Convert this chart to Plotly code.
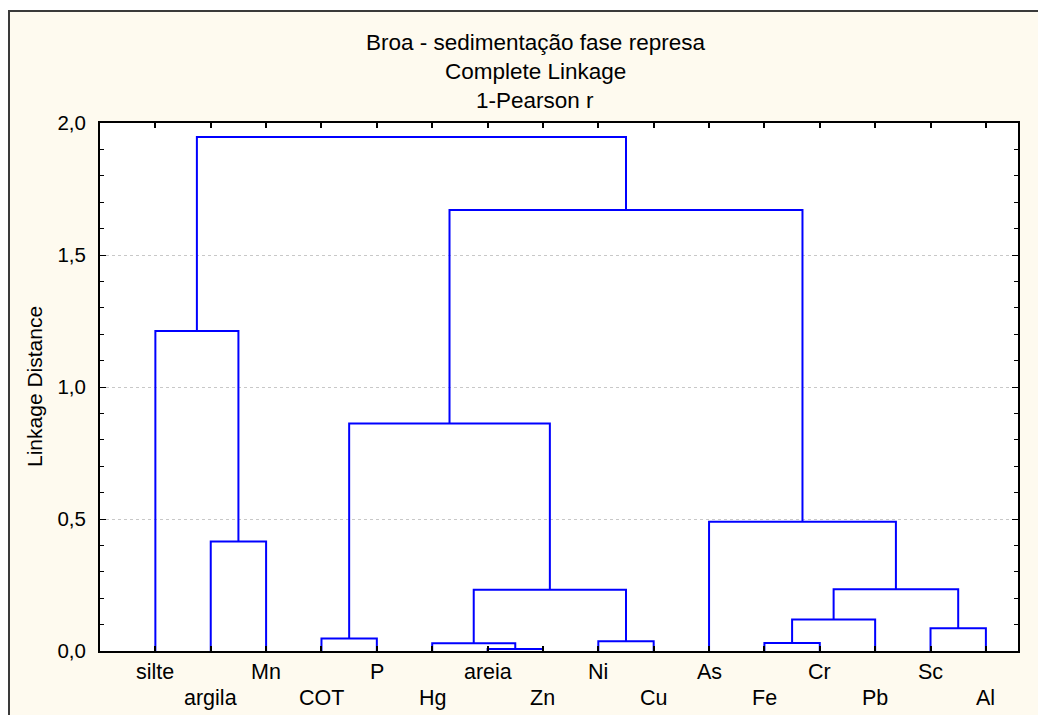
import plotly.graph_objects as go

# ---- data ----
leaves = ["silte", "argila", "Mn", "COT", "P", "Hg", "areia", "Zn",
          "Ni", "Cu", "As", "Fe", "Cr", "Pb", "Sc", "Al"]
# merges: (left cluster, right cluster); new cluster ids start at len(leaves)
merge_left = [6, 5, 11, 8, 3, 14, 18, 17, 22, 1, 10, 20, 0, 27, 28]
merge_right = [7, 16, 12, 9, 4, 15, 13, 19, 21, 2, 24, 23, 25, 26, 29]
merge_height = [0.008, 0.029, 0.030, 0.037, 0.047, 0.086, 0.119, 0.232,
                0.234, 0.415, 0.490, 0.862, 1.212, 1.670, 1.947]
ytick_vals = [0.0, 0.5, 1.0, 1.5, 2.0]
ytick_text = ["0,0", "0,5", "1,0", "1,5", "2,0"]
titles = ["Broa - sedimentação fase represa", "Complete Linkage", "1-Pearson r"]
ytitle = "Linkage Distance"

# ---- build dendrogram geometry ----
n = len(leaves)
pos = {i: i + 1 for i in range(n)}
hgt = {i: 0.0 for i in range(n)}
xs, ys = [], []
for k, (a, b, h) in enumerate(zip(merge_left, merge_right, merge_height)):
    xa, xb = pos[a], pos[b]
    xs += [xa, xa, xb, xb, None]
    ys += [hgt[a], h, h, hgt[b], None]
    pos[n + k] = (xa + xb) / 2
    hgt[n + k] = h

font = "Liberation Sans, Arial, sans-serif"
fig = go.Figure()
fig.add_trace(go.Scatter(x=xs, y=ys, mode="lines",
                         line=dict(color="#0000FF", width=2),
                         hoverinfo="skip", showlegend=False))

# page px of plot area: x 100..1018, y 123..651 (page has 8px body margin)
def px_x(p):
    return (p - 100) / 918.0

def px_y(p):
    return (651 - p) / 528.0

annotations = []
for i, name in enumerate(leaves):
    annotations.append(dict(x=i + 1, y=px_y(672 if i % 2 == 0 else 698),
                            xref="x", yref="paper", text=name, showarrow=False,
                            xanchor="center", yanchor="middle",
                            font=dict(family=font, size=21.5, color="black")))
for t, yp in zip(titles, [42, 71, 100]):
    annotations.append(dict(x=px_x(535), y=px_y(yp), xref="paper", yref="paper",
                            text=t, showarrow=False, xanchor="center",
                            yanchor="middle",
                            font=dict(family=font, size=22.5, color="black")))
annotations.append(dict(x=px_x(34), y=px_y(387), xref="paper", yref="paper",
                        text=ytitle, showarrow=False, textangle=-90,
                        xanchor="center", yanchor="middle",
                        font=dict(family=font, size=21, color="black")))

shapes = [
    dict(type="rect", xref="paper", yref="paper", layer="below",
         x0=px_x(9), x1=px_x(1080), y0=px_y(11), y1=px_y(760),
         fillcolor="#FEFAEF", line=dict(color="#3A3A3A", width=2)),
    dict(type="rect", xref="x domain", yref="y domain", layer="below",
         x0=0, x1=1, y0=0, y1=1, fillcolor="white", line=dict(width=0)),
]

fig.update_layout(
    width=1038, height=707,
    margin=dict(l=92, r=28, t=115, b=64),
    paper_bgcolor="white", plot_bgcolor="white",
    showlegend=False,
    annotations=annotations, shapes=shapes,
    xaxis=dict(range=[0, 16.58], tickvals=list(range(1, n + 1)),
               showticklabels=False, ticks="inside", ticklen=5,
               tickcolor="black", tickwidth=2,
               showline=True, linecolor="black", linewidth=2, mirror="ticks",
               showgrid=False, zeroline=False, fixedrange=True),
    yaxis=dict(range=[0, 2.0], tickvals=ytick_vals, ticktext=ytick_text,
               ticks="inside", ticklen=6, tickcolor="black", tickwidth=1,
               minor=dict(dtick=0.1, tick0=0, ticks="inside", ticklen=4,
                          tickcolor="black", showgrid=False),
               showline=True, linecolor="black", linewidth=2, mirror="ticks",
               showgrid=True, gridcolor="#C8C8C8", griddash="dot", gridwidth=1,
               zeroline=False, ticklabelstandoff=8,
               tickfont=dict(family=font, size=20.5, color="black"),
               fixedrange=True),
)

fig.write_html("out.html")
